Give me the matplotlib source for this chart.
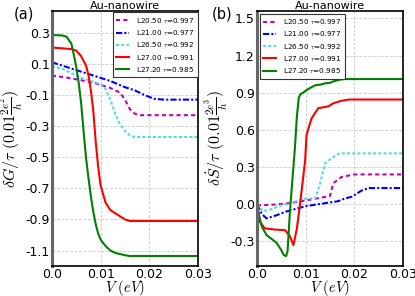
import matplotlib
matplotlib.use("Agg")
import matplotlib.pyplot as plt

plt.rcParams['mathtext.fontset'] = 'cm'
plt.rcParams['font.family'] = ['DejaVu Sans']

labels = [r"L20.50 $\tau$=0.997", r"L21.00 $\tau$=0.977", r"L26.50 $\tau$=0.992",
          r"L27.00 $\tau$=0.991", r"L27.20 $\tau$=0.985"]
colors = ['m', 'b', '#55dddd', 'r', 'g']
styles = [(0, (2, 1.5)), (0, (3, 1, 1, 1)), (0, (1.5, 1)), '-', '-']

# Panel (a): delta G / tau
ga_x = [
    [0, 0.003, 0.006, 0.009, 0.012, 0.014, 0.015, 0.016, 0.017, 0.018, 0.03],
    [0, 0.003, 0.006, 0.009, 0.012, 0.015, 0.017, 0.019, 0.021, 0.023, 0.03],
    [0, 0.002, 0.004, 0.006, 0.008, 0.010, 0.011, 0.012, 0.013, 0.014, 0.015, 0.016, 0.017, 0.03],
    [0, 0.002, 0.004, 0.005, 0.006, 0.007, 0.0075, 0.008, 0.0085, 0.009, 0.0095, 0.010, 0.011, 0.012, 0.013, 0.014, 0.015, 0.016, 0.03],
    [0, 0.002, 0.003, 0.004, 0.0045, 0.005, 0.0055, 0.006, 0.0065, 0.007, 0.0075, 0.008, 0.0085, 0.009, 0.0095, 0.010, 0.011, 0.012, 0.013, 0.015, 0.016, 0.03],
]
ga_y = [
    [0.025, 0.012, -0.005, -0.025, -0.055, -0.085, -0.13, -0.19, -0.22, -0.23, -0.23],
    [0.11, 0.08, 0.05, 0.02, -0.01, -0.05, -0.07, -0.10, -0.125, -0.13, -0.13],
    [0.085, 0.07, 0.04, 0.01, -0.01, -0.03, -0.06, -0.13, -0.22, -0.29, -0.33, -0.36, -0.37, -0.37],
    [0.205, 0.20, 0.195, 0.185, 0.15, 0.09, 0.03, -0.07, -0.20, -0.40, -0.56, -0.68, -0.79, -0.84, -0.86, -0.88, -0.90, -0.91, -0.91],
    [0.285, 0.283, 0.275, 0.23, 0.16, 0.08, -0.02, -0.15, -0.33, -0.50, -0.63, -0.75, -0.85, -0.93, -0.99, -1.03, -1.07, -1.10, -1.115, -1.13, -1.135, -1.135],
]

# Panel (b): delta S / tau
sb_x = [
    [0, 0.003, 0.006, 0.010, 0.015, 0.0157, 0.0174, 0.020, 0.03],
    [0, 0.001, 0.002, 0.004, 0.006, 0.010, 0.0167, 0.018, 0.0195, 0.0215, 0.023, 0.03],
    [0, 0.0013, 0.003, 0.005, 0.010, 0.012, 0.013, 0.014, 0.0153, 0.017, 0.03],
    [0, 0.0006, 0.0016, 0.0037, 0.0058, 0.0068, 0.0075, 0.0082, 0.0088, 0.0099, 0.0102, 0.0112, 0.0126, 0.0147, 0.0157, 0.0174, 0.019, 0.03],
    [0, 0.0005, 0.001, 0.002, 0.003, 0.004, 0.005, 0.0055, 0.006, 0.0063, 0.0068, 0.0073, 0.0078, 0.0082, 0.0086, 0.009, 0.0095, 0.010, 0.011, 0.012, 0.013, 0.014, 0.015, 0.016, 0.017, 0.018, 0.03],
]
sb_y = [
    [-0.01, -0.005, 0.005, 0.03, 0.065, 0.17, 0.22, 0.24, 0.24],
    [0, -0.08, -0.115, -0.09, -0.06, -0.016, 0.024, 0.045, 0.06, 0.11, 0.13, 0.13],
    [0, -0.056, -0.04, -0.01, 0.045, 0.045, 0.17, 0.33, 0.37, 0.41, 0.41],
    [0, -0.14, -0.195, -0.205, -0.21, -0.26, -0.33, -0.2, -0.02, 0.35, 0.56, 0.69, 0.775, 0.79, 0.815, 0.835, 0.845, 0.845],
    [0, -0.1, -0.18, -0.25, -0.28, -0.31, -0.37, -0.41, -0.42, -0.38, -0.05, 0.2, 0.45, 0.7, 0.86, 0.89, 0.90, 0.915, 0.94, 0.96, 0.965, 0.975, 0.98, 0.995, 1.005, 1.01, 1.01],
]

ga_ticks = [0.3, 0.1, -0.1, -0.3, -0.5, -0.7, -0.9, -1.1]
sb_ticks = [-0.3, 0.0, 0.3, 0.6, 0.9, 1.2, 1.5]
x_ticks = [0.0, 0.01, 0.02, 0.03]

fig = plt.figure(figsize=(4.15, 2.96), dpi=100)
axa = fig.add_axes([0.125, 0.101, 0.352, 0.862])
axb = fig.add_axes([0.619, 0.101, 0.352, 0.862])

def style(ax, yticks, ylim, ylabel, panel, px, loc, anchor):
    ax.set_xlim(0, 0.03)
    ax.set_ylim(*ylim)
    ax.set_xticks(x_ticks)
    ax.set_xticklabels(['0.0', '0.01', '0.02', '0.03'])
    ax.set_yticks(yticks)
    ax.set_yticklabels(['%.1f' % t for t in yticks])
    ax.tick_params(length=0, labelsize=9, pad=1.5)
    ax.grid(True, color='#cccccc', linestyle='--', linewidth=0.6)
    for s in ax.spines.values():
        s.set_linewidth(1.2)
    ax.spines['left'].set_color('#666666')
    ax.spines['left'].set_linewidth(2.2)
    ax.set_title('Au-nanowire', fontsize=8, pad=1.5)
    ax.set_xlabel(r'$V\ (eV)$', fontsize=10.5, labelpad=-2.5)
    ax.set_ylabel(ylabel, fontsize=11.5)
    ax.yaxis.set_label_coords(-0.175, 0.5)
    ax.text(px, 0.99, panel, transform=ax.transAxes, fontsize=10.5, va='center')
    leg = ax.legend(loc=loc, bbox_to_anchor=anchor, fontsize=5.2, handlelength=1.7,
                    borderpad=0.5, labelspacing=0.45, handletextpad=1.0,
                    fancybox=False, framealpha=1, edgecolor='#333333',
                    borderaxespad=0)
    leg.get_frame().set_linewidth(0.8)

for i in range(5):
    lw = 1.5
    axa.plot(ga_x[i], ga_y[i], color=colors[i], linestyle=styles[i], lw=lw, label=labels[i])
    axb.plot(sb_x[i], sb_y[i], color=colors[i], linestyle=styles[i], lw=lw, label=labels[i])

style(axa, ga_ticks, (-1.2, 0.44), r'$\delta G/\tau\ (0.01\frac{2e^2}{h})$', '(a)', -0.26,
      'upper right', (1.0, 0.995))
style(axb, sb_ticks, (-0.5, 1.56), r'$\delta \dot{S}/\tau\ (0.01\frac{2e^3}{h})$', '(b)', -0.31,
      'upper left', (0.02, 0.99))

fig.savefig('out.png', dpi=100)
